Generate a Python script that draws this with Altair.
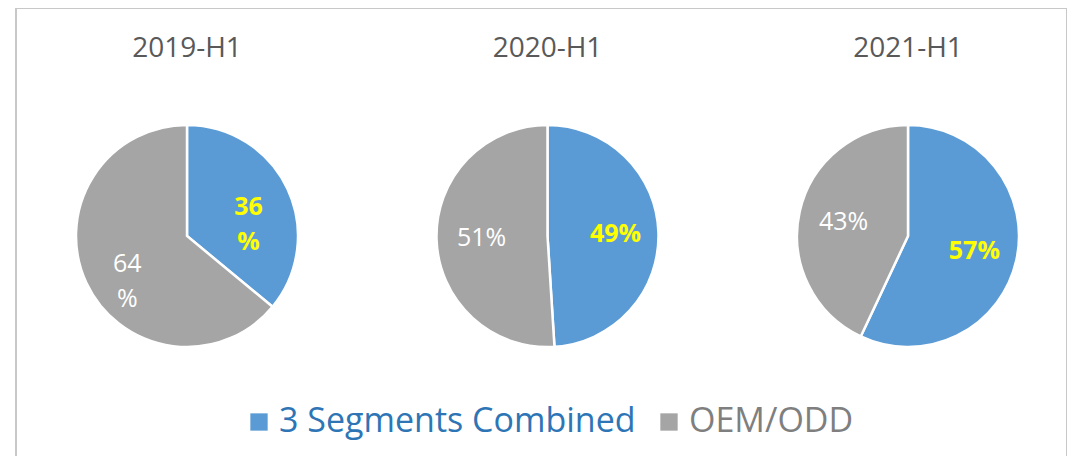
import altair as alt
import pandas as pd

years = ["2019-H1", "2020-H1", "2021-H1"]
series = ["3 Segments Combined", "OEM/ODD"]
combined_vals = [36, 49, 57]
oem_vals = [64, 51, 43]
combined_labels = ["36\n%", "49%", "57%"]
oem_labels = ["64\n%", "51%", "43%"]
slice_colors = ["#5B9BD5", "#A5A5A5"]

rows = []
for i, y in enumerate(years):
    rows.append({"year": y, "series": series[0], "order": 0, "value": combined_vals[i], "label": combined_labels[i]})
    rows.append({"year": y, "series": series[1], "order": 1, "value": oem_vals[i], "label": oem_labels[i]})
df = pd.DataFrame(rows)
titles = pd.DataFrame({"year": years})

FONT = "Open Sans"
W, H = 1051, 452

xscale = alt.Scale(domain=years, range=[171, 892], padding=0)
tscale = alt.Scale(domain=[0, 100], range=[0, 6.283185307179586])

base = alt.Chart(df).transform_window(
    cum="sum(value)", groupby=["year"], sort=[alt.SortField("order")], frame=[None, 0]
).transform_calculate(
    start="datum.cum - datum.value", mid="datum.cum - datum.value / 2"
)

arcs = base.mark_arc(outerRadius=111, stroke="white", strokeWidth=2.5).encode(
    x=alt.X("year:N", scale=xscale, axis=None),
    y=alt.value(228),
    theta=alt.Theta("start:Q", scale=tscale, stack=False),
    theta2="cum:Q",
    color=alt.Color(
        "series:N",
        scale=alt.Scale(domain=series, range=slice_colors),
        legend=alt.Legend(
            title=None,
            orient="none",
            legendX=226,
            legendY=397,
            direction="horizontal",
            symbolType="square",
            symbolSize=300,
            symbolStrokeWidth=0,
            labelFont=FONT,
            labelFontSize=34,
            labelColor=alt.ExprRef(expr="datum.label === '3 Segments Combined' ? '#2E75B6' : '#7F7F7F'"),
            labelOffset=3,
            columnPadding=16,
            labelLimit=0,
        ),
    ),
)

lbl_blue = base.transform_filter(alt.datum.series == series[0]).mark_text(
    font=FONT, fontSize=25, fontWeight="bold", color="#FFFF00",
    lineBreak="\n", lineHeight=35, align="center", baseline="middle",
).encode(
    x=alt.X("year:N", scale=xscale, axis=None),
    y=alt.value(228),
    theta=alt.Theta("mid:Q", scale=tscale, stack=False),
    radius=alt.value(68),
    text="label:N",
)

lbl_gray = base.transform_filter(alt.datum.series == series[1]).mark_text(
    font=FONT, fontSize=25, color="#FFFFFF",
    lineBreak="\n", lineHeight=35, align="center", baseline="middle",
).encode(
    x=alt.X("year:N", scale=xscale, axis=None),
    y=alt.value(228),
    theta=alt.Theta("mid:Q", scale=tscale, stack=False),
    radius=alt.value(66),
    text="label:N",
)

title_layer = alt.Chart(titles).mark_text(
    font=FONT, fontSize=28, color="#595959", align="center", baseline="middle"
).encode(
    x=alt.X("year:N", scale=xscale, axis=None),
    y=alt.value(41),
    text="year:N",
)

chart = alt.layer(arcs, lbl_blue, lbl_gray, title_layer).properties(
    width=W, height=H, padding={"left": 8, "top": 0, "right": 0, "bottom": 0}
).configure_view(stroke="#C8C8C8", strokeWidth=2)

chart.save("out.html", embed_options={"renderer": "svg", "actions": False})
